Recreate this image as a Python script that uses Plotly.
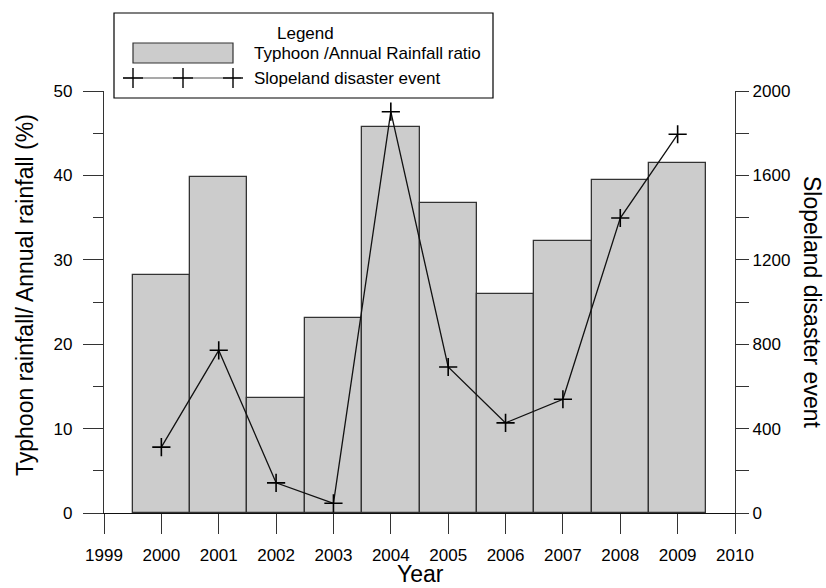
import plotly.graph_objects as go

years = [2000, 2001, 2002, 2003, 2004, 2005, 2006, 2007, 2008, 2009]
ratio = [28.2, 39.8, 13.6, 23.1, 45.7, 36.7, 25.9, 32.2, 39.4, 41.5]
events = [312, 771, 143, 46, 1902, 692, 427, 539, 1398, 1795]

x_ticks = list(range(1999, 2011))
left_title = "Typhoon rainfall/ Annual rainfall (%)"
right_title = "Slopeland disaster event"
x_title = "Year"
bar_name = "Typhoon /Annual Rainfall ratio"
line_name = "Slopeland disaster event"

W, H = 826, 588
L, R, T, B = 104, 91, 91, 75
PW, PH = W - L - R, H - T - B
FONT = "Liberation Sans, Arial, sans-serif"
AX = "#333333"

def px(x):
    return (x - L) / PW

def py(y):
    return (H - B - y) / PH

fig = go.Figure()
fig.add_trace(go.Bar(
    x=years, y=ratio, width=1, name=bar_name,
    marker=dict(color="#cccccc", line=dict(color="#333333", width=1.3)),
    showlegend=False,
))
fig.add_trace(go.Scatter(
    x=years, y=events, yaxis="y2", mode="lines+markers", name=line_name,
    line=dict(color="#111111", width=1.3),
    marker=dict(symbol="cross-thin", size=13, line=dict(color="#000000", width=1.6)),
    showlegend=False,
))

shapes = []
annotations = []
# legend box
shapes.append(dict(type="rect", xref="paper", yref="paper",
                   x0=px(114), x1=px(493), y0=py(98), y1=py(13),
                   line=dict(color="#000000", width=1.2), fillcolor="white", layer="above"))
shapes.append(dict(type="rect", xref="paper", yref="paper",
                   x0=px(133), x1=px(233), y0=py(63), y1=py(43),
                   line=dict(color="#333333", width=1.2), fillcolor="#cccccc", layer="above"))
shapes.append(dict(type="line", xref="paper", yref="paper",
                   x0=px(123), x1=px(241), y0=py(78), y1=py(78),
                   line=dict(color="#555555", width=1.2), layer="above"))
for cx in (133, 183, 233):
    shapes.append(dict(type="line", xref="paper", yref="paper",
                       x0=px(cx - 10), x1=px(cx + 10), y0=py(78), y1=py(78),
                       line=dict(color="#000000", width=1.4), layer="above"))
    shapes.append(dict(type="line", xref="paper", yref="paper",
                       x0=px(cx), x1=px(cx), y0=py(88), y1=py(68),
                       line=dict(color="#000000", width=1.4), layer="above"))
annotations.append(dict(text="Legend", xref="paper", yref="paper", x=px(305), y=py(33),
                        showarrow=False, xanchor="center", yanchor="middle",
                        font=dict(size=17, color="#000000", family=FONT)))
annotations.append(dict(text=bar_name, xref="paper", yref="paper", x=px(252), y=py(53),
                        showarrow=False, xanchor="left", yanchor="middle",
                        font=dict(size=17, color="#000000", family=FONT)))
annotations.append(dict(text=line_name, xref="paper", yref="paper", x=px(252), y=py(78),
                        showarrow=False, xanchor="left", yanchor="middle",
                        font=dict(size=17, color="#000000", family=FONT)))
# axis titles
annotations.append(dict(text=left_title, xref="paper", yref="paper", x=px(25), y=py(295),
                        showarrow=False, xanchor="center", yanchor="middle", textangle=-90,
                        font=dict(size=23, color="#000000", family=FONT)))
annotations.append(dict(text=right_title, xref="paper", yref="paper", x=px(812), y=py(302),
                        showarrow=False, xanchor="center", yanchor="middle", textangle=90,
                        font=dict(size=23, color="#000000", family=FONT)))
annotations.append(dict(text=x_title, xref="paper", yref="paper", x=px(420), y=py(588),
                        showarrow=False, xanchor="center", yanchor="bottom",
                        borderpad=0,
                        font=dict(size=23, color="#000000", family=FONT)))

fig.update_layout(
    width=W, height=H,
    margin=dict(l=L, r=R, t=T, b=B, pad=0, autoexpand=False),
    paper_bgcolor="white", plot_bgcolor="white",
    font=dict(family=FONT, size=17, color="#000000"),
    bargap=0,
    xaxis=dict(range=[1999, 2010], tickvals=x_ticks, ticktext=[str(v) for v in x_ticks],
               ticks="outside", ticklen=20, tickwidth=1.2, tickcolor=AX,
               showline=True, linecolor="#111111", linewidth=1.3, showgrid=False,
               zeroline=False, tickfont=dict(size=17), ticklabelstandoff=6, automargin=False),
    yaxis=dict(range=[0, 50], dtick=10, ticks="outside", ticklen=20, tickwidth=1.2,
               tickcolor=AX, showline=True, linecolor=AX, linewidth=1.3, automargin=False,
               showgrid=False, zeroline=False, tickfont=dict(size=17), ticklabelstandoff=7,
               minor=dict(dtick=5, ticks="outside", ticklen=10, tickwidth=1.2, tickcolor=AX, showgrid=False)),
    yaxis2=dict(range=[0, 2000], dtick=400, overlaying="y", side="right",
                ticks="outside", ticklen=13, tickwidth=1.2, tickcolor=AX, automargin=False,
                showline=True, linecolor=AX, linewidth=1.3, showgrid=False,
                zeroline=False, tickfont=dict(size=17), ticklabelstandoff=0,
                minor=dict(dtick=200, ticks="outside", ticklen=13, tickwidth=1.2, tickcolor=AX, showgrid=False)),
    shapes=shapes, annotations=annotations,
)

fig.write_html("out.html")
